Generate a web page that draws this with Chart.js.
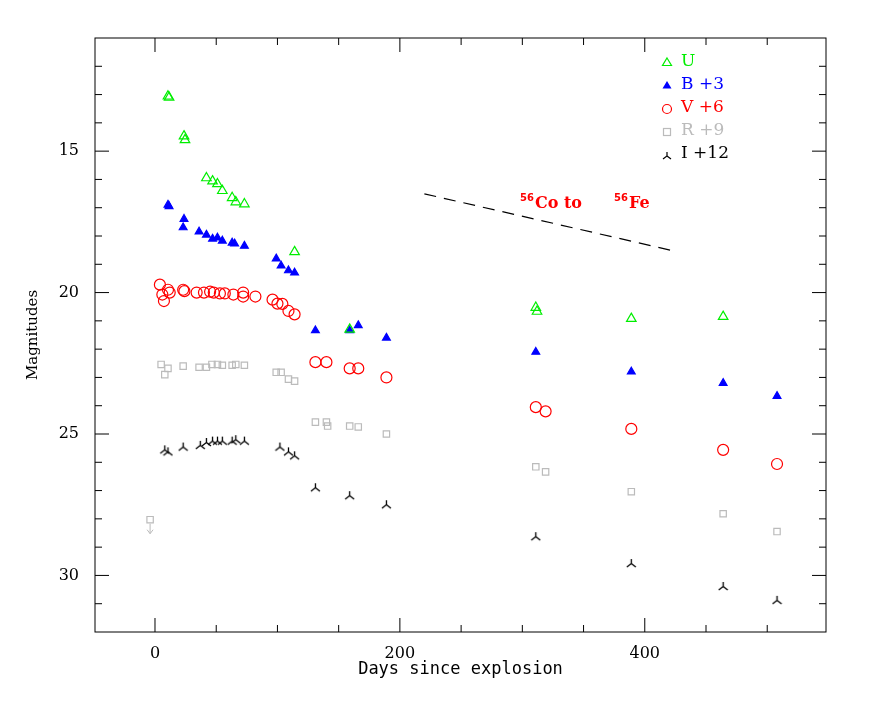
<!DOCTYPE html>
<html>
<head>
<meta charset="utf-8">
<script src="https://cdn.jsdelivr.net/npm/chart.js@4/dist/chart.umd.min.js"></script>
<style>
body{margin:0;background:#fff;}
#wrap{width:872px;height:708px;}
</style>
</head>
<body>
<div id="wrap"><canvas id="lc"></canvas></div>
<script>
// light curve data: [day, magnitude]
var uData = [[10.6,13.06],[11.5,13.1],[23.7,14.47],[24.5,14.6],[42,15.95],[47,16.06],[51,16.16],[55,16.4],[63,16.65],[66,16.8],[73,16.87],[114,18.56],[159,21.3],[311,20.53],[312,20.67],[389,20.92],[464,20.85]];
var bData = [[10.6,16.9],[11.5,16.95],[23.7,17.4],[23,17.7],[36,17.85],[42,17.96],[47,18.1],[51,18.06],[55,18.17],[63,18.24],[65,18.27],[73,18.35],[99,18.8],[103,19.05],[109,19.22],[114,19.3],[131,21.34],[159,21.34],[166,21.16],[189,21.6],[311,22.1],[389,22.8],[464,23.2],[508,23.66]];
var vData = [[4,19.72],[6,20.07],[7.3,20.3],[10.6,19.9],[12,20],[23,19.9],[24,19.95],[34,20],[40,20],[45,19.97],[48,20],[53,20.03],[57,20.03],[64,20.07],[72,20.0],[72,20.14],[82,20.14],[96,20.25],[100,20.39],[104,20.4],[109,20.65],[114,20.77],[131,22.46],[140,22.46],[159,22.68],[166,22.68],[189,23],[311,24.05],[319,24.2],[389,24.82],[464,25.56],[508,26.06]];
var rData = [[-4,28.03],[5,22.54],[8,22.9],[10.6,22.68],[23,22.6],[36,22.64],[42,22.64],[46.5,22.54],[51,22.54],[55,22.57],[63,22.57],[66,22.54],[73,22.57],[99,22.82],[103,22.82],[109,23.06],[114,23.13],[131,24.58],[140,24.58],[141,24.72],[159,24.72],[166,24.75],[189,25],[311,26.16],[319,26.34],[389,27.04],[464,27.82],[508,28.45]];
var iData = [[8,25.56],[10.6,25.63],[23,25.46],[37,25.4],[42,25.3],[47,25.25],[51,25.25],[55,25.25],[63,25.25],[66,25.2],[73,25.25],[102,25.46],[109,25.63],[114,25.77],[131,26.9],[159,27.18],[189,27.5],[311,28.63],[389,29.58],[464,30.39],[508,30.88]];
var coLine = [[220,16.51],[423,18.52]];
var legendItems = [["U","#00ee00","triangle",false],["B +3","#0000ff","triangle",true],["V +6","#ff0000","circle",false],["R +9","#bbbbbb","rect",false],["I +12","#000000","tri",false]];

function pts(a){ return a.map(function(p){ return {x:p[0], y:p[1]}; }); }

function triMarker(size){
    var c = document.createElement("canvas");
    c.width = size; c.height = size;
    var g = c.getContext("2d");
    var m = size/2;
    g.strokeStyle = "#000"; g.lineWidth = 1.3;
    g.beginPath();
    g.moveTo(m,1); g.lineTo(m,m);
    g.lineTo(1,size-2); g.moveTo(m,m); g.lineTo(size-1,size-2);
    g.stroke();
    return c;
}
var triImg = triMarker(11);

function ds(data, color, style, filled, radius){
    return {
        type: "scatter",
        data: pts(data),
        pointStyle: style,
        pointRadius: radius,
        pointBorderColor: color,
        pointBackgroundColor: filled ? color : "rgba(0,0,0,0)",
        pointBorderWidth: 1.2
    };
}

var frame = {
    id: "frame",
    afterDraw: function(chart){
        var c = chart.ctx, a = chart.chartArea;
        var xs = chart.scales.x, ys = chart.scales.y;
        c.save();
        c.strokeStyle = "#000"; c.lineWidth = 1;
        c.strokeRect(a.left, a.top, a.right-a.left, a.bottom-a.top);
        c.beginPath();
        for(var d = -50; d <= 550; d += 50){
            var px = xs.getPixelForValue(d);
            if(px < a.left || px > a.right) continue;
            var len = d % 200 == 0 ? 14 : 7;
            c.moveTo(px, a.bottom); c.lineTo(px, a.bottom-len);
            c.moveTo(px, a.top); c.lineTo(px, a.top+len);
        }
        for(var m = 12; m <= 31; m++){
            var py = ys.getPixelForValue(m);
            var l2 = m % 5 == 0 ? 14 : 7;
            c.moveTo(a.left, py); c.lineTo(a.left+l2, py);
            c.moveTo(a.right, py); c.lineTo(a.right-l2, py);
        }
        c.stroke();
        // upper limit arrow on first R point
        var ax = xs.getPixelForValue(rData[0][0]), ay = ys.getPixelForValue(rData[0][1]);
        c.strokeStyle = "#bbbbbb";
        c.beginPath();
        c.moveTo(ax, ay+4); c.lineTo(ax, ay+14);
        c.moveTo(ax-3, ay+10); c.lineTo(ax, ay+14); c.lineTo(ax+3, ay+10);
        c.stroke();
        // legend
        var lx = 667, ly = 62;
        c.font = "17px 'DejaVu Serif'";
        c.textBaseline = "middle";
        legendItems.forEach(function(it, i){
            var y = ly + i*23;
            c.strokeStyle = it[1]; c.fillStyle = it[1]; c.lineWidth = 1.2;
            c.beginPath();
            if(it[2] == "triangle"){
                c.moveTo(lx, y-4); c.lineTo(lx+4.5, y+3.5); c.lineTo(lx-4.5, y+3.5); c.closePath();
                if(it[3]) c.fill(); else c.stroke();
            } else if(it[2] == "circle"){
                c.arc(lx, y+1, 4.5, 0, Math.PI*2); c.stroke();
            } else if(it[2] == "rect"){
                c.strokeRect(lx-3.5, y-2.5, 7, 7);
            } else {
                c.moveTo(lx, y-2); c.lineTo(lx, y+2); c.lineTo(lx-4, y+5);
                c.moveTo(lx, y+2); c.lineTo(lx+4, y+5); c.stroke();
            }
            c.fillText(it[0], lx+14, y);
        });
        // decay label
        c.fillStyle = "#ff0000";
        c.font = "bold 10px 'DejaVu Sans'";
        c.fillText("56", 520, 198);
        c.fillText("56", 614, 198);
        c.font = "bold 16px 'DejaVu Serif'";
        c.fillText("Co to", 535, 204);
        c.fillText("Fe", 629, 204);
        c.restore();
    }
};

var ctx = document.getElementById("lc").getContext("2d");
var chart = new Chart(ctx, {
    data: {
        datasets: [
            ds(uData, "#00ee00", "triangle", false, 5.5),
            ds(bData, "#0000ff", "triangle", true, 4.5),
            ds(vData, "#ff0000", "circle", false, 5.5),
            ds(rData, "#bbbbbb", "rect", false, 4.5),
            {type: "scatter", data: pts(iData), pointStyle: triImg},
            {type: "line", data: pts(coLine), borderColor: "#000", borderWidth: 1.2, borderDash: [12, 8], pointRadius: 0, fill: false}
        ]
    },
    options: {
        responsive: true,
        maintainAspectRatio: false,
        animation: false,
        layout: {padding: {top: 38, right: 46, left: 24, bottom: 28}},
        plugins: {legend: {display: false}, tooltip: {enabled: false}},
        scales: {
            x: {
                type: "linear", min: -49, max: 548,
                grid: {display: false},
                border: {display: false},
                afterFit: function(s){ s.height = 48; },
                ticks: {color: "#000", font: {family: "DejaVu Serif", size: 16}, padding: 4},
                afterBuildTicks: function(s){ s.ticks = [{value:0},{value:200},{value:400}]; },
                title: {display: true, text: "Days since explosion", color: "#000", font: {family: "DejaVu Sans Mono", size: 17}, padding: {top: 0, bottom: 0}}
            },
            y: {
                type: "linear", min: 11, max: 32, reverse: true,
                grid: {display: false},
                border: {display: false},
                afterFit: function(s){ s.width = 71; },
                afterBuildTicks: function(s){ s.ticks = [{value:15},{value:20},{value:25},{value:30}]; },
                ticks: {color: "#000", font: {family: "DejaVu Serif", size: 16}, padding: 8},
                title: {display: true, text: "Magnitudes", color: "#000", font: {family: "DejaVu Serif", size: 15}, padding: 0}
            }
        }
    },
    plugins: [frame]
});
</script>
</body>
</html>
